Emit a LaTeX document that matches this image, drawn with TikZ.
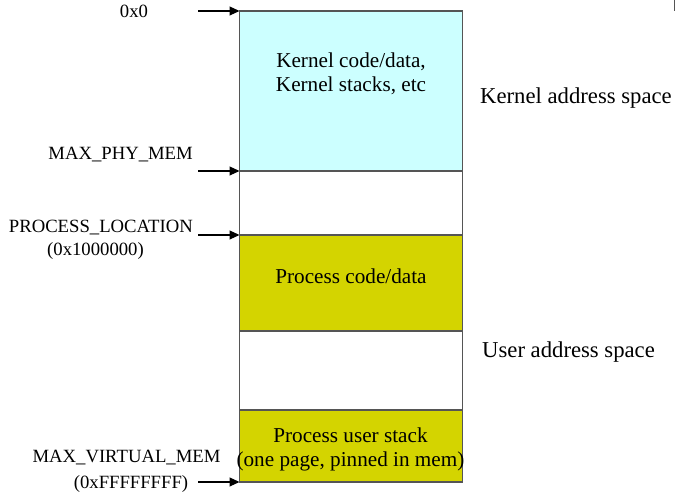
\documentclass[tikz,border=0pt]{standalone}
\usepackage{fontspec}
\setmainfont{Liberation Serif}
\usetikzlibrary{arrows.meta}
\definecolor{kcyan}{HTML}{CCFFFF}
\definecolor{pyellow}{HTML}{D4D400}
\definecolor{edgegray}{HTML}{555555}
\begin{document}
\begin{tikzpicture}[x=1pt,y=-1pt,
  region/.style={draw=edgegray,line width=1.2pt,minimum width=223pt,inner sep=0pt,outer sep=0pt,anchor=north west},
  lbl/.style={font=\fontsize{18.7}{21}\selectfont,inner sep=0pt},
  boxtxt/.style={font=\fontsize{21.2}{24}\selectfont,inner sep=0pt,align=center},
  side/.style={font=\fontsize{22.7}{26}\selectfont,inner sep=0pt,anchor=base west},
  ptr/.style={-{Triangle[length=10pt,width=9pt]},line width=1.1pt}]
\useasboundingbox (0,0) rectangle (686,502);
% memory regions
\node[region,fill=kcyan,minimum height=160pt] (kernel) at (239.5,11) {};
\node[region,fill=white,minimum height=64pt] (gap1) at (239.5,171) {};
\node[region,fill=pyellow,minimum height=96pt] (pcode) at (239.5,235) {};
\node[region,fill=white,minimum height=79pt] (gap2) at (239.5,331) {};
\node[region,fill=pyellow,minimum height=72pt] (stack) at (239.5,410) {};
% texts inside regions
\node[boxtxt] (ktxt) at (351,73.5) {Kernel code/data,\\Kernel stacks, etc};
\node[boxtxt] (ptxt) at (351,276) {Process code/data};
\node[boxtxt] (stxt) at (350.5,449.5) {Process user stack\\(one page, pinned in mem)};
% side labels
\node[side] (kas) at (480,104) {Kernel address space};
\node[side] (uas) at (482,358) {User address space};
% left labels
\node[lbl,anchor=base] (l0) at (134,17.5) {0x0};
\node[lbl,anchor=base east] (lphy) at (193,160) {MAX\_PHY\_MEM};
\node[lbl,anchor=base east] (lproc) at (193,233) {PROCESS\_LOCATION};
\node[lbl,anchor=base] (lproc2) at (95.5,255.5) {(0x1000000)};
\node[lbl,anchor=base] (lvirt) at (126.5,462.5) {MAX\_VIRTUAL\_MEM};
\node[lbl,anchor=base] (lvirt2) at (131,489) {(0xFFFFFFFF)};
% arrow starts
\coordinate (a0) at (198,11);
\coordinate (a1) at (198,171);
\coordinate (a2) at (198,235);
\coordinate (a3) at (198,482);
\draw[ptr] (a0) -- (kernel.north west);
\draw[ptr] (a1) -- (gap1.north west);
\draw[ptr] (a2) -- (pcode.north west);
\draw[ptr] (a3) -- (stack.south west);
% small tick at top right
\coordinate (t1) at (674,0);
\coordinate (t2) at (674,11);
\draw[line width=0.9pt,edgegray] (t1) -- (t2);
\end{tikzpicture}
\end{document}
